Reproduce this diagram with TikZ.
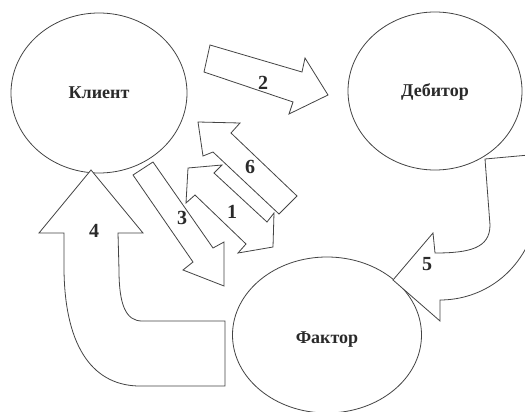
\documentclass[tikz,border=0pt]{standalone}
\usepackage{fontspec}
\setmainfont{Liberation Serif}
\usetikzlibrary{shapes.geometric}
\definecolor{ln}{HTML}{444444}
\definecolor{tx}{HTML}{2A2A2A}
\tikzset{
  party/.style={ellipse, draw=ln, line width=0.8pt, fill=white, inner sep=0pt,
    font=\fontsize{18}{18}\selectfont\bfseries, text=tx, text height=11.5pt, text depth=0pt},
  blockarrow/.style={draw=ln, line width=0.8pt, fill=white, line join=miter},
  num/.style={font=\fontsize{20}{20}\selectfont\bfseries, text=tx, inner sep=0pt,
    text height=13.5pt, text depth=0pt}
}
\begin{document}
\begin{tikzpicture}[x=1pt,y=-1pt]
\useasboundingbox (0,0) rectangle (525,412);
\clip (0,0) rectangle (525,412);
\fill[white] (0,0) rectangle (525,412);
% parties
\node[party, minimum width=176pt, minimum height=160pt] (klient) at (99,93) {Клиент};
\node[party, minimum width=174pt, minimum height=158pt] (debitor) at (435,91) {Дебитор};
\node[party, minimum width=189pt, minimum height=156pt] (faktor) at (327,335) {\raisebox{-3pt}{Фактор}};
% arrow 2
\draw[blockarrow] (210,45) -- (302,72) -- (305,58) -- (328,95) -- (289,114) -- (293,102) -- (204,72) -- cycle;
% arrow 6
\draw[blockarrow] (198,122) -- (240,123) -- (231,133) -- (297,196) -- (279,214) -- (213,152) -- (203,156) -- cycle;
% arrow 3
\draw[blockarrow] (133,175) -- (153,162) -- (213,248) -- (224,242) -- (224,286) -- (183,270) -- (193,262) -- cycle;
% arrow 1 (double)
\draw[blockarrow] (188,168) -- (222,165) -- (214,173) -- (267,222) -- (274,213) -- (273,247) -- (238,253) -- (246,244) -- (195,195) -- (186,203) -- cycle;
% arrow 4
\draw[blockarrow] (91,170) -- (143,233) -- (118,233) -- (119,270)
  .. controls (119,305) and (126,321) .. (142,321) -- (225,321) -- (225,386) -- (140,386)
  .. controls (95,386) and (65,350) .. (64,270) -- (64,233) -- (39,233) -- cycle;
% arrow 5
\draw[blockarrow] (485,159) -- (540,154) -- (538,215)
  .. controls (525,275) and (480,300) .. (440,300) -- (440,321) -- (393,280) -- (433,233) -- (435,253)
  .. controls (470,253) and (490,248) .. (490,225) -- cycle;
% numbers
\node[num] (n2) at (263,83) {2};
\node[num] (n6) at (250,167) {6};
\node[num] (n1) at (232,212) {1};
\node[num] (n3) at (182,218) {3};
\node[num] (n4) at (94,231) {4};
\node[num] (n5) at (427,264) {5};
\end{tikzpicture}
\end{document}
